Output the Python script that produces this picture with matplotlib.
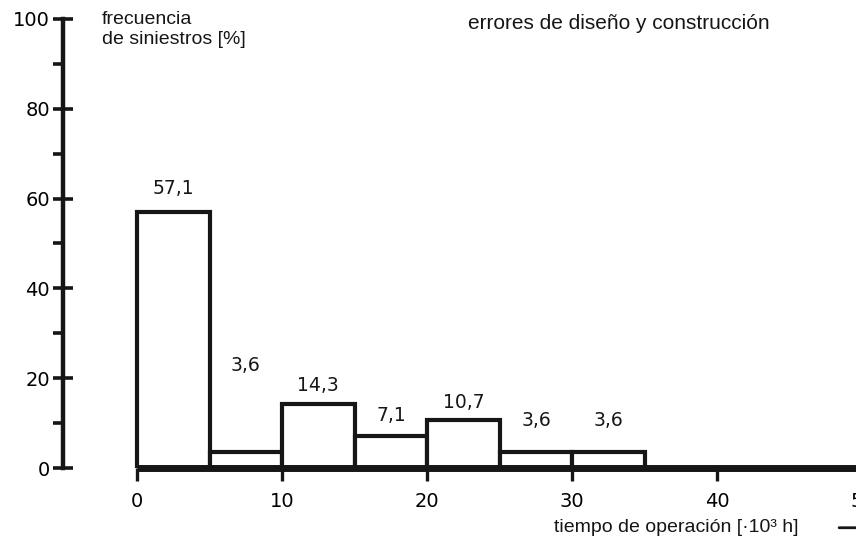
import matplotlib
matplotlib.use("Agg")
import matplotlib.pyplot as plt

# histogram data: bin edges (10^3 h) and frequency (%)
bin_left = [0, 5, 10, 15, 20, 25, 30]
bin_width = 5
freq = [57.1, 3.6, 14.3, 7.1, 10.7, 3.6, 3.6]
freq_labels = ["57,1", "3,6", "14,3", "7,1", "10,7", "3,6", "3,6"]

y_major = [0, 20, 40, 60, 80, 100]
y_minor = [10, 30, 50, 70, 90]
x_ticks = [0, 10, 20, 30, 40, 50]

# label heights above each bar (as placed in the original drawing)
label_y = [62.3, 22.8, 18.3, 11.6, 14.5, 10.5, 10.5]

INK = "#161616"
NUM_FONT = ["DejaVu Sans"]
plt.rcParams["font.family"] = ["Liberation Sans", "DejaVu Sans"]
plt.rcParams["font.size"] = 14

fig = plt.figure(figsize=(8.56, 5.43), dpi=100)
ax = fig.add_axes([0.0736, 0.1381, 0.978, 0.827])

ax.bar(bin_left, freq, width=bin_width, align="edge", facecolor="white",
       edgecolor=INK, linewidth=3, zorder=2)

for i, lab in enumerate(freq_labels):
    ax.text(bin_left[i] + bin_width / 2, label_y[i], lab, ha="center",
            va="center", color=INK, fontsize=13.5, family=NUM_FONT)

# thick baseline of the histogram
ax.hlines(0, 0, 60, color=INK, linewidth=5, zorder=3, clip_on=False)

ax.set_xlim(-5.1, 52.6)
ax.set_ylim(0, 100)

for s in ["top", "right", "bottom"]:
    ax.spines[s].set_visible(False)
ax.spines["left"].set_linewidth(3.2)
ax.spines["left"].set_color(INK)

ax.set_yticks(y_major)
ax.set_yticks(y_minor, minor=True)
ax.set_xticks(x_ticks)
ax.tick_params(axis="y", which="major", direction="inout", length=15,
               width=2.6, color=INK, pad=2, labelsize=14)
ax.tick_params(axis="y", which="minor", direction="out", length=7,
               width=2.6, color=INK)
ax.tick_params(axis="x", which="major", direction="out", length=9,
               width=2.4, color=INK, pad=8, labelsize=14)
for lab in ax.get_xticklabels() + ax.get_yticklabels():
    lab.set_family(NUM_FONT)

ax.text(-2.4, 101.8, "frecuencia\nde siniestros [%]", ha="left", va="top",
        fontsize=14, color=INK, linespacing=1.25)
ax.text(22.8, 101.0, "errores de diseño y construcción", ha="left",
        va="top", fontsize=15, color=INK)

ax.text(45.6, -13.3, "tiempo de operación [·10³ h]", ha="right",
        va="center", fontsize=14, color=INK, clip_on=False)
ax.annotate("", xy=(52.5, -13.3), xytext=(48.2, -13.3),
            arrowprops=dict(arrowstyle="-|>", color=INK, lw=2),
            annotation_clip=False)

fig.savefig("out.png", dpi=100, facecolor="white")
